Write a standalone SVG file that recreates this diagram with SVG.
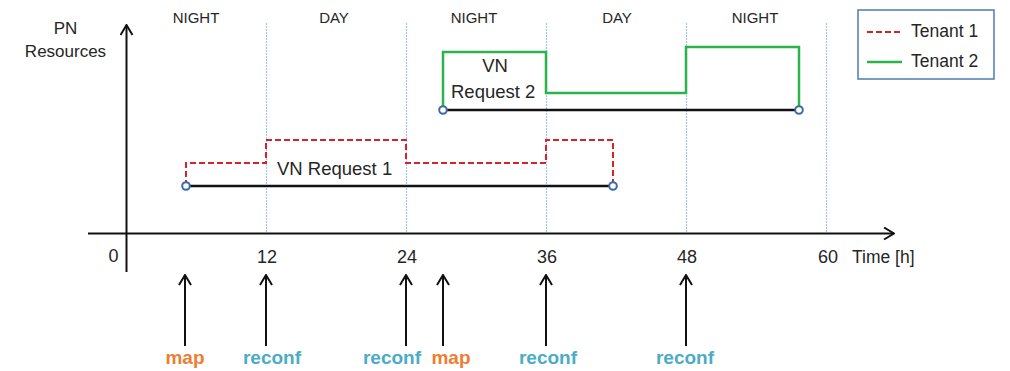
<svg xmlns="http://www.w3.org/2000/svg" width="1010" height="371" viewBox="0 0 1010 371">
  <style>
    text { font-family: "Liberation Sans", Arial, sans-serif; fill: #262626; }
    .period { font-size: 15px; text-anchor: middle; }
    .tick { font-size: 18px; text-anchor: middle; }
    .lbl { font-size: 18.5px; }
    .ev { font-size: 19px; font-weight: bold; text-anchor: middle; }
    .map { fill: #ED7D31; }
    .reconf { fill: #4BACC6; }
    .axis { stroke: #111; stroke-width: 2; fill: none; }
    .grid { stroke: #A6C3EA; stroke-width: 1.2; stroke-dasharray: 2 1; fill: none; }
    .span { stroke: #111; stroke-width: 2.5; fill: none; }
    .t1 { stroke: #D7222A; stroke-width: 2; stroke-dasharray: 6 3; fill: none; }
    .t2 { stroke: #2DB34E; stroke-width: 2.5; fill: none; }
    .end { fill: #fff; stroke: #3B6BA5; stroke-width: 2; }
    .evarrow { stroke: #111; stroke-width: 2; fill: none; }
  </style>
  <defs>
    <marker id="head" viewBox="0 0 12 14" refX="11" refY="7" markerWidth="12" markerHeight="14" markerUnits="userSpaceOnUse" orient="auto">
      <path d="M1,1 L11,7 L1,13" fill="none" stroke="#111" stroke-width="2"/>
    </marker>
  </defs>

  <!-- day/night grid -->
  <g id="grid">
    <line class="grid" x1="266.5" y1="23" x2="266.5" y2="233"/>
    <line class="grid" x1="406.5" y1="23" x2="406.5" y2="233"/>
    <line class="grid" x1="546.5" y1="23" x2="546.5" y2="233"/>
    <line class="grid" x1="686.5" y1="23" x2="686.5" y2="233"/>
    <line class="grid" x1="826.5" y1="23" x2="826.5" y2="233"/>
    <text class="period" x="196" y="23">NIGHT</text>
    <text class="period" x="334" y="23">DAY</text>
    <text class="period" x="474" y="23">NIGHT</text>
    <text class="period" x="617" y="23">DAY</text>
    <text class="period" x="755" y="23">NIGHT</text>
  </g>

  <!-- axes -->
  <g id="axes">
    <line class="axis" x1="126.5" y1="272" x2="126.5" y2="25" marker-end="url(#head)"/>
    <line class="axis" x1="88" y1="233.5" x2="894" y2="233.5" marker-end="url(#head)"/>
    <text x="65.5" y="34" style="font-size:17px" text-anchor="middle">PN</text>
    <text x="65.5" y="57" style="font-size:17px" text-anchor="middle">Resources</text>
    <text class="tick" x="113.5" y="262">0</text>
    <text class="tick" x="267" y="263">12</text>
    <text class="tick" x="407" y="263">24</text>
    <text class="tick" x="547" y="263">36</text>
    <text class="tick" x="687" y="263">48</text>
    <text class="tick" x="828" y="263">60</text>
    <text x="852" y="263" style="font-size:17.5px">Time [h]</text>
  </g>

  <!-- VN request 1 (tenant 1) -->
  <g id="vn1">
    <polyline class="t1" points="186,186 186,163 266,163 266,140 406,140 406,163 546,163 546,140 613,140 613,186"/>
    <line class="span" x1="186" y1="186" x2="613" y2="186"/>
    <circle class="end" cx="186" cy="186" r="3.8"/>
    <circle class="end" cx="613" cy="186" r="3.8"/>
    <text class="lbl" x="277" y="175">VN Request 1</text>
  </g>

  <!-- VN request 2 (tenant 2) -->
  <g id="vn2">
    <polyline class="t2" points="443,110 443,52 546,52 546,93 686,93 686,47 799,47 799,110"/>
    <line class="span" x1="443" y1="110" x2="799" y2="110"/>
    <circle class="end" cx="443" cy="110" r="3.8"/>
    <circle class="end" cx="799" cy="110" r="3.8"/>
    <text class="lbl" x="495" y="72" text-anchor="middle">VN</text>
    <text class="lbl" x="451" y="98">Request 2</text>
  </g>

  <!-- legend -->
  <g id="legend">
    <rect x="858" y="10" width="136" height="69" fill="#fff" stroke="#4F7BB5" stroke-width="1.5"/>
    <line class="t1" x1="867" y1="32" x2="902" y2="32"/>
    <line class="t2" x1="867" y1="62" x2="902" y2="62"/>
    <text x="911" y="37" style="font-size:17.5px">Tenant 1</text>
    <text x="911" y="67" style="font-size:17.5px">Tenant 2</text>
  </g>

  <!-- mapping / reconfiguration events -->
  <g id="events">
    <line class="evarrow" x1="185" y1="346" x2="185" y2="275" marker-end="url(#head)"/>
    <line class="evarrow" x1="266" y1="346" x2="266" y2="275" marker-end="url(#head)"/>
    <line class="evarrow" x1="406" y1="346" x2="406" y2="275" marker-end="url(#head)"/>
    <line class="evarrow" x1="443" y1="346" x2="443" y2="275" marker-end="url(#head)"/>
    <line class="evarrow" x1="546" y1="346" x2="546" y2="275" marker-end="url(#head)"/>
    <line class="evarrow" x1="686" y1="346" x2="686" y2="275" marker-end="url(#head)"/>
    <text class="ev map" x="185" y="364">map</text>
    <text class="ev reconf" x="272" y="364">reconf</text>
    <text class="ev reconf" x="392" y="364">reconf</text>
    <text class="ev map" x="451" y="364">map</text>
    <text class="ev reconf" x="548" y="364">reconf</text>
    <text class="ev reconf" x="685" y="364">reconf</text>
  </g>
</svg>
